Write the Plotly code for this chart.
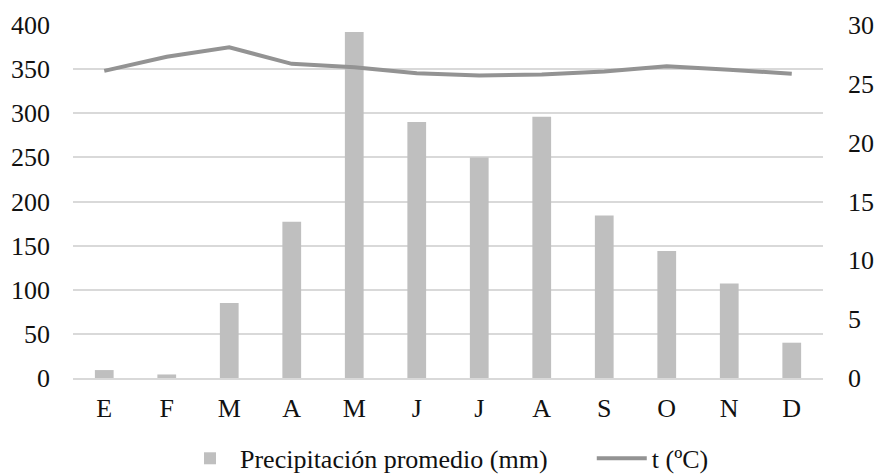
import plotly.graph_objects as go

# Monthly climate data
meses = ["E", "F", "M", "A", "M", "J", "J", "A", "S", "O", "N", "D"]
precipitacion = [9, 4, 85, 177, 392, 290, 250, 296, 184, 144, 107, 40]
temperatura = [26.1, 27.3, 28.1, 26.7, 26.4, 25.9, 25.7, 25.8, 26.05, 26.5, 26.2, 25.85]

posiciones = list(range(len(meses)))

fig = go.Figure()

fig.add_trace(go.Bar(
    x=posiciones,
    y=precipitacion,
    name="Precipitación promedio (mm)",
    marker=dict(color="#BFBFBF", line=dict(width=0)),
    yaxis="y",
    legend="legend",
))

fig.add_trace(go.Scatter(
    x=posiciones,
    y=temperatura,
    name="t (ºC)",
    mode="lines",
    line=dict(color="#939393", width=4),
    yaxis="y2",
    legend="legend2",
))

fuente = dict(family="Liberation Serif", size=26, color="#111111")

leyenda_base = dict(
    orientation="h",
    xanchor="left", xref="container",
    y=0.035, yanchor="middle", yref="container",
    font=fuente,
    itemwidth=50,
    bgcolor="rgba(0,0,0,0)",
)

fig.update_layout(
    width=878,
    height=475,
    margin=dict(l=73, r=55, t=25, b=97, autoexpand=False),
    paper_bgcolor="white",
    plot_bgcolor="white",
    font=fuente,
    bargap=0.7,
    showlegend=True,
    legend=dict(leyenda_base, x=0.205),
    legend2=dict(leyenda_base, x=0.674),
    xaxis=dict(
        range=[-0.5, 11.5],
        tickmode="array",
        tickvals=posiciones,
        ticktext=meses,
        showgrid=False,
        showline=True,
        linecolor="#D9D9D9",
        linewidth=1.5,
        ticks="",
        zeroline=False,
        ticklabelstandoff=6,
    ),
    yaxis=dict(
        range=[0, 400],
        dtick=50,
        tick0=0,
        showgrid=True,
        gridcolor="#D9D9D9",
        gridwidth=1.5,
        zeroline=False,
        showline=False,
        ticks="",
        ticklabelstandoff=22,
    ),
    yaxis2=dict(
        range=[0, 30],
        dtick=5,
        tick0=0,
        overlaying="y",
        side="right",
        showgrid=False,
        zeroline=False,
        showline=False,
        ticks="",
        ticklabelstandoff=24,
    ),
)

fig.write_html("out.html")
